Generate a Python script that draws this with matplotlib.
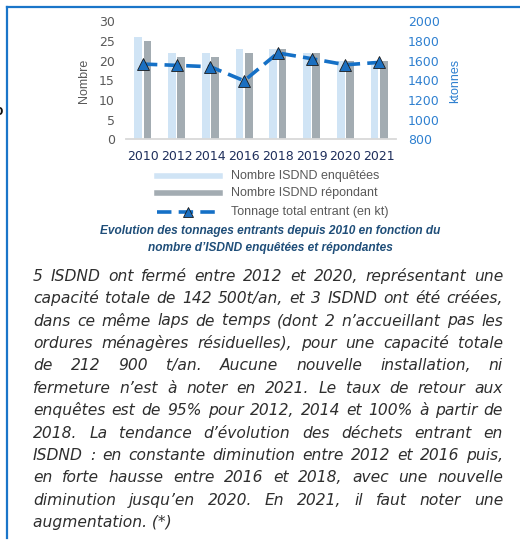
import matplotlib
matplotlib.use("Agg")
import matplotlib.pyplot as plt
from matplotlib.lines import Line2D
from matplotlib.font_manager import FontProperties
import numpy as np

# ---------------- data ----------------
years = ["2010", "2012", "2014", "2016", "2018", "2019", "2020", "2021"]
isdnd_enquetees = [26, 22, 22, 23, 23, 22, 20, 20]
isdnd_repondant = [25, 21, 21, 22, 23, 22, 20, 20]
tonnage_kt = [1565, 1552, 1538, 1395, 1678, 1620, 1558, 1582]
left_ticks = [0, 5, 10, 15, 20, 25, 30]
right_ticks = [800, 1000, 1200, 1400, 1600, 1800, 2000]
legend_labels = ["Nombre ISDND enquêtées", "Nombre ISDND répondant",
                 "Tonnage total entrant (en kt)"]
caption_lines = ["Evolution des tonnages entrants depuis 2010 en fonction du",
                 "nombre d\u2019ISDND enquêtées et répondantes"]
body_lines = [
    "5 ISDND ont fermé entre 2012 et 2020, représentant une",
    "capacité totale de 142 500t/an, et 3 ISDND ont été créées,",
    "dans ce même laps de temps (dont 2 n\u2019accueillant pas les",
    "ordures ménagères résiduelles), pour une capacité totale",
    "de 212 900 t/an. Aucune nouvelle installation, ni",
    "fermeture n\u2019est à noter en 2021. Le taux de retour aux",
    "enquêtes est de 95% pour 2012, 2014 et 100% à partir de",
    "2018. La tendance d\u2019évolution des déchets entrant en",
    "ISDND : en constante diminution entre 2012 et 2016 puis,",
    "en forte hausse entre 2016 et 2018, avec une nouvelle",
    "diminution jusqu\u2019en 2020. En 2021, il faut noter une",
    "augmentation. (*)",
]

# ---------------- style ----------------
W, H = 520, 542
FONT = "Liberation Sans"
FONT2 = "DejaVu Sans"
plt.rcParams["font.family"] = [FONT, "DejaVu Sans"]
C_LIGHT = "#d0e4f5"
C_GRAY = "#a3acb2"
C_LINE = "#1570c6"
C_TICK = "#595959"
C_RTICK = "#2f80d0"
C_YEAR = "#1f2f5c"
C_CAP = "#1f4e79"
C_BORDER = "#1a75c9"
C_BODY = "#2e2e2e"

fig = plt.figure(figsize=(W / 100, H / 100), dpi=100)
fig.patch.set_facecolor("white")

def fx(px):
    return px / W

def fy(py):
    return 1 - py / H

# border
fig.add_artist(Line2D([fx(6.5), fx(6.5)], [fy(6.5), fy(538)], color=C_BORDER, lw=1.6))
fig.add_artist(Line2D([fx(6.5), fx(522)], [fy(6.5), fy(6.5)], color=C_BORDER, lw=1.6))
fig.text(fx(2.5), fy(111), "o", ha="right", va="center", fontsize=10, color="#111111", fontweight="bold")

# ---------------- chart ----------------
ax_l, ax_r, ax_t, ax_b = 126, 396, 21.3, 139.3
ax = fig.add_axes([fx(ax_l), fy(ax_b), (ax_r - ax_l) / W, (ax_b - ax_t) / H])
x = np.arange(len(years))
bw = 0.23
ax.bar(x - 0.14, isdnd_enquetees, width=bw, color=C_LIGHT, zorder=2)
ax.bar(x + 0.14, isdnd_repondant, width=bw, color=C_GRAY, zorder=2)
ax.set_xlim(-0.5, len(years) - 0.5)
ax.set_ylim(0, 30)
ax.set_yticks(left_ticks)
ax.set_xticks(x)
ax.set_xticklabels(years, family=FONT2)
for s in ["top", "left", "right"]:
    ax.spines[s].set_visible(False)
ax.spines["bottom"].set_color("#d9d9d9")
ax.spines["bottom"].set_linewidth(1.3)
ax.tick_params(axis="y", length=0, pad=8, labelsize=9, labelcolor=C_TICK)
ax.tick_params(axis="x", length=0, pad=8, labelsize=9, labelcolor=C_YEAR)
for t in ax.get_yticklabels():
    t.set_family(FONT2)
ax.patch.set_alpha(0)

ax2 = ax.twinx()
ax2.set_ylim(800, 2000)
ax2.set_yticks(right_ticks)
for s in ["top", "left", "right", "bottom"]:
    ax2.spines[s].set_visible(False)
ax2.tick_params(axis="y", length=0, pad=8.5, labelsize=9, labelcolor=C_RTICK)
for t in ax2.get_yticklabels():
    t.set_family(FONT2)
ax2.plot(x, tonnage_kt, color=C_LINE, lw=2.6, dashes=(4, 2), zorder=3,
         marker="^", markersize=8, markerfacecolor="#1b6fc0",
         markeredgecolor="#1a1a1a", markeredgewidth=0.6)

fig.text(fx(84), fy(81), "Nombre", rotation=90, ha="center", va="center",
         fontsize=9, color=C_TICK)
fig.text(fx(455), fy(81), "ktonnes", rotation=90, ha="center", va="center",
         fontsize=9, color=C_RTICK)

# ---------------- legend ----------------
lx0, lx1, ltx = 156.7, 220, 230.7
ly = [176, 193.3, 212]
fig.add_artist(Line2D([fx(lx0), fx(lx1)], [fy(ly[0])] * 2, color=C_LIGHT, lw=4))
fig.add_artist(Line2D([fx(lx0), fx(lx1)], [fy(ly[1])] * 2, color=C_GRAY, lw=4))
fig.add_artist(Line2D([fx(lx0), fx(lx1)], [fy(ly[2])] * 2, color=C_LINE, lw=2.6,
                      dashes=(4, 2)))
fig.add_artist(Line2D([fx((lx0 + lx1) / 2)], [fy(ly[2])], marker="^", markersize=7,
                      markerfacecolor="#1b6fc0", markeredgecolor="#1a1a1a",
                      markeredgewidth=0.6, lw=0))
for lab, yy in zip(legend_labels, ly):
    fig.text(fx(ltx), fy(yy), lab, ha="left", va="center", fontsize=9, color=C_TICK)

# ---------------- caption ----------------
for line, bl in zip(caption_lines, [234, 251]):
    fig.text(fx(270), fy(bl), line, ha="center", va="baseline", fontsize=8.6,
             fontweight="bold", fontstyle="italic", color=C_CAP)

# ---------------- body (justified) ----------------
fig.canvas.draw()
renderer = fig.canvas.get_renderer()
left_px, right_px = 33, 503
target = right_px - left_px
fsize = 11.2
fp = FontProperties(family=FONT2, style="oblique", size=fsize)

def width(s, prop):
    w, h, d = renderer.get_text_width_height_descent(s, prop, ismath=False)
    return w

# shrink font if any line is naturally too wide
maxw = max(width(l, fp) for l in body_lines[:-1])
if maxw > target * 0.99:
    fsize = fsize * target / maxw * 0.985
    fp = FontProperties(family=FONT2, style="oblique", size=fsize)

base0, step = 280.7, 22.4
for i, line in enumerate(body_lines):
    bl = base0 + i * step
    words = line.split(" ")
    if i == len(body_lines) - 1:
        fig.text(fx(left_px), fy(bl), line, ha="left", va="baseline",
                 fontproperties=fp, color=C_BODY)
        continue
    ws = [width(w_, fp) for w_ in words]
    gap = (target - sum(ws)) / (len(words) - 1)
    xp = left_px
    for w_, ww in zip(words, ws):
        fig.text(fx(xp), fy(bl), w_, ha="left", va="baseline",
                 fontproperties=fp, color=C_BODY)
        xp += ww + gap

fig.savefig("out.png", dpi=100, facecolor="white")
